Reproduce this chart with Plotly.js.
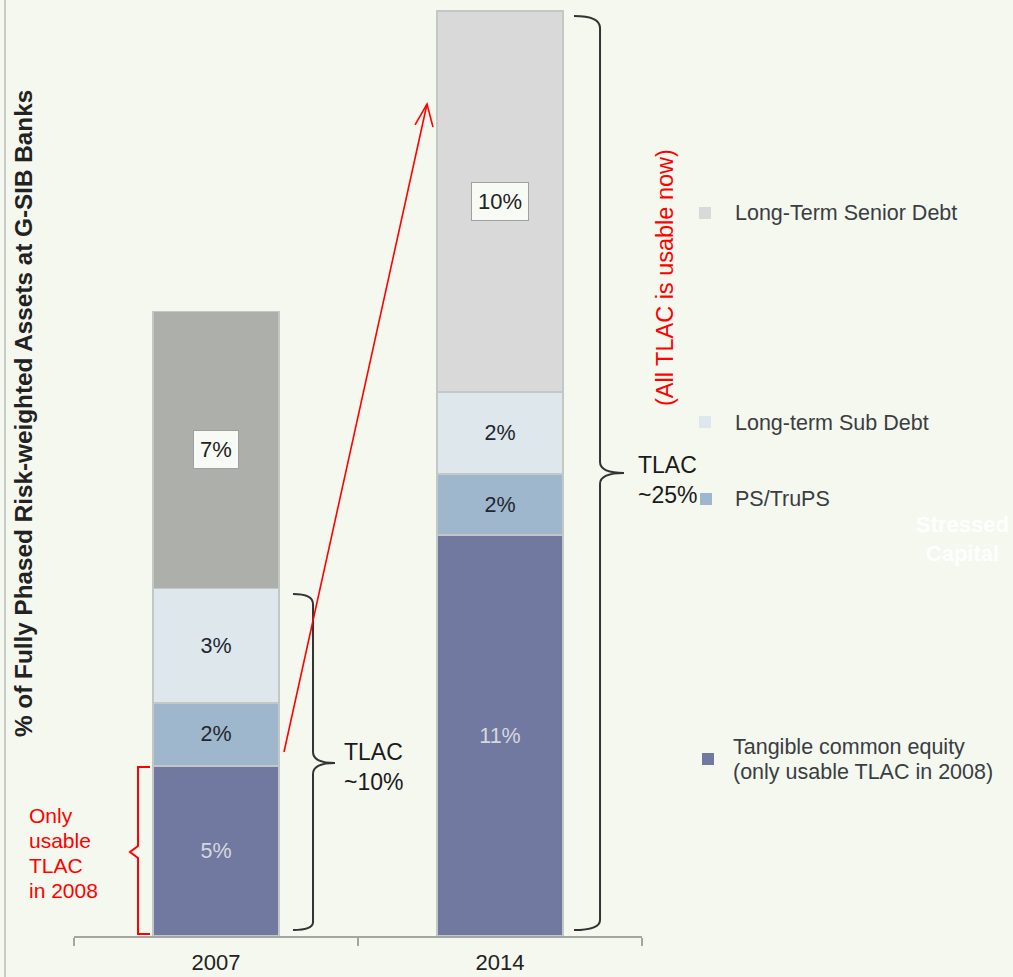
<!DOCTYPE html>
<html>
<head>
<meta charset="utf-8">
<script src="https://cdn.plot.ly/plotly-3.0.1.min.js"></script>
<style>html,body{margin:0;padding:0;background:#f4f8ef;}#chart{width:1013px;height:977px;}</style>
</head>
<body>
<div id="chart"></div>
<script>
// ---- data ----
const years = ['2007', '2014'];
const tangibleCommonEquity = [4.65, 10.97];
const psTruPS = [1.73, 1.67];
const subDebt = [3.13, 2.25];
const seniorDebt = [7.58, 10.42];
const tceLabels = ['5%', '11%'];
const psLabels = ['2%', '2%'];
const subLabels = ['3%', '2%'];
const seniorLabels = ['7%', '10%'];
const seriesNames = ['Tangible common equity', 'PS/TruPS', 'Long-term Sub Debt', 'Long-Term Senior Debt'];
const tceNote = '(only usable TLAC in 2008)';
const redNoteLines = ['Only', 'usable', 'TLAC', 'in 2008'];

// ---- geometry helpers (layout only) ----
const W = 1013, H = 977, ML = 74, MR = 371, MT = 4, MB = 41;
const PW = W - ML - MR, PH = H - MT - MB;
const px = x => (x - ML) / PW;
const py = y => (H - MB - y) / PH;
const P = (x, y) => px(x).toFixed(4) + ' ' + py(y).toFixed(4);

const FONT = 'Liberation Sans, Arial, sans-serif';
const colors = {tce: '#7179a0', ps: '#9fb7cd', sub: '#dde7ec', senior: ['#adafaa', '#d9d9d9']};
const segLine = {color: '#c4c8c4', width: 1.5};

const traces = [
  {type: 'bar', name: seriesNames[0], x: years, y: tangibleCommonEquity, text: tceLabels,
   textposition: 'inside', insidetextanchor: 'middle', constraintext: 'none',
   textfont: {family: FONT, size: 21.5, color: '#d6d8de'},
   marker: {color: colors.tce, line: segLine}, hoverinfo: 'skip'},
  {type: 'bar', name: seriesNames[1], x: years, y: psTruPS, text: psLabels,
   textposition: 'inside', insidetextanchor: 'middle', constraintext: 'none',
   textfont: {family: FONT, size: 21.5, color: '#1f2630'},
   marker: {color: colors.ps, line: segLine}, hoverinfo: 'skip'},
  {type: 'bar', name: seriesNames[2], x: years, y: subDebt, text: subLabels,
   textposition: 'inside', insidetextanchor: 'middle', constraintext: 'none',
   textfont: {family: FONT, size: 21.5, color: '#1f2630'},
   marker: {color: colors.sub, line: segLine}, hoverinfo: 'skip'},
  {type: 'bar', name: seriesNames[3], x: years, y: seniorDebt,
   textposition: 'none',
   marker: {color: colors.senior, line: segLine}, hoverinfo: 'skip'}
];

// boxed labels on the senior debt segments, positioned from the data (category index)
const annotations = years.map((yr, i) => ({
  x: i, y: tangibleCommonEquity[i] + psTruPS[i] + subDebt[i] + seniorDebt[i] / 2,
  xref: 'x', yref: 'y', text: seniorLabels[i], showarrow: false,
  font: {family: FONT, size: 22, color: '#222'},
  bgcolor: '#f8fbf5', bordercolor: '#a0a0a0', borderwidth: 1, borderpad: 6
}));

function A(x, y, text, o) {
  return Object.assign({x: px(x), y: py(y), xref: 'paper', yref: 'paper', text: text,
    showarrow: false, xanchor: 'left', yanchor: 'middle', align: 'left',
    font: {family: FONT, size: 21.5, color: '#3a3d42'}}, o || {});
}
const red = s => ({family: FONT, size: s, color: '#ff0000'});

annotations.push(
  A(23, 414, '<b>% of Fully Phased Risk-weighted Assets at G-SIB Banks</b>',
    {xanchor: 'center', align: 'center', textangle: -90, font: {family: FONT, size: 24.3, color: '#222'}}),
  A(342, 767, 'TLAC<br>~10%', {font: {family: FONT, size: 23, color: '#1a1a1a'}}),
  A(636, 480, 'TLAC<br>~25%', {font: {family: FONT, size: 23, color: '#1a1a1a'}}),
  A(665, 277, '(All TLAC is usable now)', {xanchor: 'center', align: 'center', textangle: -90,
    font: red(23.5)}),
  A(733, 213, seriesNames[3]),
  A(733, 423, seriesNames[2]),
  A(733, 499, seriesNames[1]),
  A(731, 747, seriesNames[0]),
  A(731, 772, tceNote),
  A(962, 539, '<b>Stressed<br>Capital</b>', {xanchor: 'center', align: 'center',
    font: {family: FONT, size: 22, color: '#ffffff'}})
);
redNoteLines.forEach((t, i) => annotations.push(A(27, 815 + 25 * i, t, {font: red(21)})));

function sq(cx, cy, c) {
  return {type: 'rect', xref: 'paper', yref: 'paper', x0: px(cx - 6), x1: px(cx + 6),
    y0: py(cy + 6), y1: py(cy - 6), fillcolor: c, line: {width: 0}};
}
function path(d, color, w) {
  return {type: 'path', xref: 'paper', yref: 'paper', path: d, line: {color: color, width: w || 2}};
}

const shapes = [
  {type: 'line', xref: 'paper', yref: 'paper', x0: px(5), x1: px(5), y0: py(0), y1: py(977),
   line: {color: '#c8ccc8', width: 2}},
  sq(705, 213, colors.senior[1]),
  sq(705, 422, colors.sub),
  sq(706, 499, colors.ps),
  sq(708, 759, colors.tce),
  // black brace 2007
  path('M ' + P(293, 594) + ' Q ' + P(313, 594) + ' ' + P(313, 604) + ' L ' + P(313, 752) +
       ' Q ' + P(313, 763) + ' ' + P(335, 763) + ' Q ' + P(313, 763) + ' ' + P(313, 774) +
       ' L ' + P(313, 922) + ' Q ' + P(313, 930) + ' ' + P(293, 930), '#333', 2),
  // black brace 2014
  path('M ' + P(574, 16) + ' Q ' + P(600, 16) + ' ' + P(600, 28) + ' L ' + P(600, 462) +
       ' Q ' + P(600, 473) + ' ' + P(624, 473) + ' Q ' + P(600, 473) + ' ' + P(600, 484) +
       ' L ' + P(600, 920) + ' Q ' + P(600, 930) + ' ' + P(574, 930), '#333', 2),
  // red bracket
  path('M ' + P(150, 767) + ' L ' + P(138, 767) + ' L ' + P(138, 846) + ' L ' + P(130, 852) +
       ' L ' + P(138, 858) + ' L ' + P(138, 934) + ' L ' + P(150, 934), '#ff0000', 2),
  // red arrow
  path('M ' + P(284, 752) + ' L ' + P(427, 104), '#ff0000', 1.6),
  path('M ' + P(415, 125) + ' L ' + P(427, 104) + ' L ' + P(433, 127), '#ff0000', 1.6)
];

const layout = {
  width: W, height: H,
  margin: {l: ML, r: MR, t: MT, b: MB},
  paper_bgcolor: '#f4f8ef', plot_bgcolor: '#f4f8ef',
  barmode: 'stack', bargap: 0.556,
  showlegend: false,
  xaxis: {type: 'category', range: [-0.5, 1.5], showline: true, linecolor: '#a4a6a4', linewidth: 2,
    ticks: 'outside', tickson: 'boundaries', ticklen: 8, tickwidth: 2, tickcolor: '#a4a6a4',
    ticklabelstandoff: 6,
    tickfont: {family: FONT, size: 22, color: '#222'}, showgrid: false, zeroline: false, fixedrange: true},
  yaxis: {range: [0, 25.5], visible: false, fixedrange: true},
  annotations: annotations,
  shapes: shapes
};

Plotly.newPlot('chart', traces, layout, {displayModeBar: false, staticPlot: true});
</script>
</body>
</html>
